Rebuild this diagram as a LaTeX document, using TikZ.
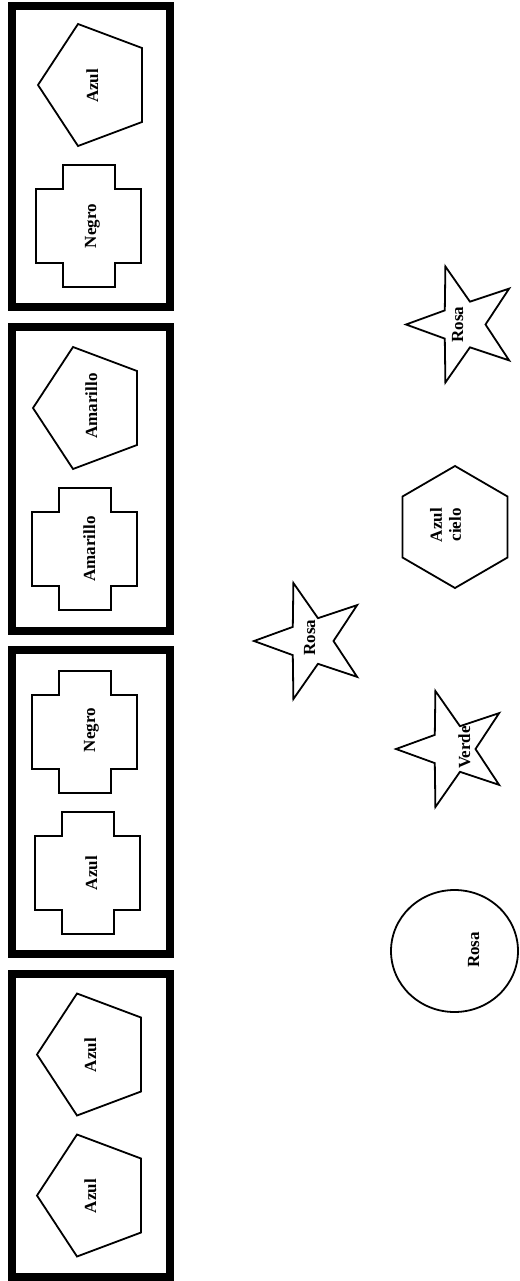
\documentclass[tikz,border=0pt]{standalone}
\usepackage{fontspec}
\setmainfont{Liberation Serif}
\tikzset{
  boxline/.style={line width=8pt},
  shapeline/.style={line width=1.8pt, line join=miter},
  lbl/.style={font=\bfseries\fontsize{17}{19}\selectfont, rotate=90, inner sep=0pt, anchor=base},
}
\newcommand\pentag[2]{\draw[shapeline] (#1,-#2) -- ++(40,61) -- ++(64,-24) -- ++(0,-74) -- ++(-64,-24) -- cycle;}
\newcommand\crossshape[2]{\draw[shapeline] (#1,-#2) ++(27,0) -- ++(52,0) -- ++(0,-24) -- ++(26,0) -- ++(0,-74) -- ++(-26,0) -- ++(0,-24) -- ++(-52,0) -- ++(0,24) -- ++(-27,0) -- ++(0,74) -- ++(27,0) -- cycle;}
\newcommand\starshape[2]{\draw[shapeline,shift={(#1,-#2)}] (180:57pt and 61pt) -- (144:22.5pt and 24pt) -- (108:57pt and 61pt) -- (72:22.5pt and 24pt) -- (36:57pt and 61pt) -- (0:22.5pt and 24pt) -- (-36:57pt and 61pt) -- (-72:22.5pt and 24pt) -- (-108:57pt and 61pt) -- (-144:22.5pt and 24pt) -- cycle;}
\begin{document}
\begin{tikzpicture}[x=1pt,y=1pt]
\useasboundingbox (0,0) rectangle (519,-1281);
% boxes
\draw[boxline] (12,-6) rectangle (170,-307);
\draw[boxline] (12,-327) rectangle (170,-631);
\draw[boxline] (12,-650) rectangle (170,-954);
\draw[boxline] (12,-974) rectangle (170,-1277);
% box 4
\pentag{38}{85}
\crossshape{36}{165}
% box 3
\pentag{33}{408}
\crossshape{32}{488}
% box 2
\crossshape{32}{671}
\crossshape{35}{812}
% box 1
\pentag{37}{1054.5}
\pentag{37}{1195.5}
% loose shapes
\starshape{463}{324.5}
\draw[shapeline] (455,-466) -- (507.5,-496.5) -- (507.5,-557.5) -- (455,-588) -- (402.5,-557.5) -- (402.5,-496.5) -- cycle;
\starshape{311}{641}
\starshape{453}{749}
\draw[shapeline] (454.5,-951) ellipse [x radius=63.5pt, y radius=61pt];
% labels
\node[lbl] (t1) at (98,-86) {Azul};
\node[lbl] (t2) at (96,-226) {Negro};
\node[lbl] (t3) at (97,-406) {Amarillo};
\node[lbl] (t4) at (95,-549) {Amarillo};
\node[lbl] (t5) at (95,-730) {Negro};
\node[lbl] (t6) at (97,-873) {Azul};
\node[lbl] (t7) at (96,-1055) {Azul};
\node[lbl] (t8) at (96,-1196) {Azul};
\node[lbl] (t9) at (463,-324.5) {Rosa};
\node[lbl,anchor=center,align=center] (t10) at (445.5,-525) {Azul\\cielo};
\node[lbl] (t11) at (315,-637.5) {Rosa};
\node[lbl] (t12) at (470,-747.5) {Verde};
\node[lbl] (t13) at (479,-950) {Rosa};
\end{tikzpicture}
\end{document}
